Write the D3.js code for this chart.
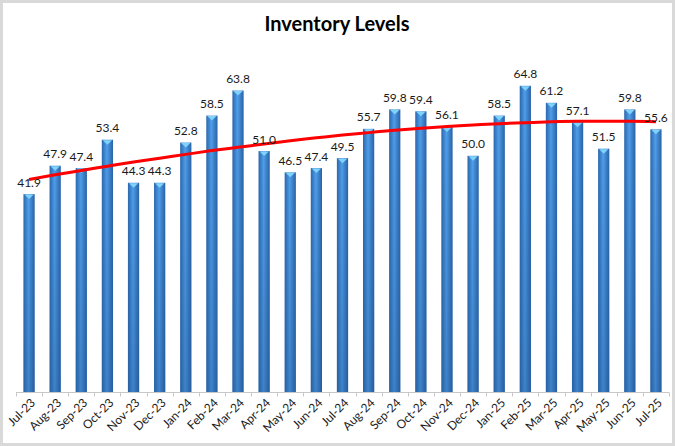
<!DOCTYPE html>
<html lang="en">
<head>
<meta charset="UTF-8">
<title>Inventory Levels</title>
<script src="https://d3js.org/d3.v7.min.js"></script>
<style>
    body { margin: 0; background: #fff; }
    svg { display: block; }
    .title { font-family: Lato, "Open Sans", sans-serif; font-weight: bold; font-size: 20px; fill: #000; }
    .val { font-family: Lato, "Open Sans", sans-serif; font-size: 12px; fill: #1a1a1a; }
    .xlab { font-family: Lato, "Open Sans", sans-serif; font-size: 12px; fill: #1a1a1a; }
</style>
</head>
<body>
<svg width="675" height="446"></svg>
<script>
    const months = ["Jul-23", "Aug-23", "Sep-23", "Oct-23", "Nov-23", "Dec-23", "Jan-24", "Feb-24", "Mar-24",
        "Apr-24", "May-24", "Jun-24", "Jul-24", "Aug-24", "Sep-24", "Oct-24", "Nov-24", "Dec-24",
        "Jan-25", "Feb-25", "Mar-25", "Apr-25", "May-25", "Jun-25", "Jul-25"];
    const inventory = [41.9, 47.9, 47.4, 53.4, 44.3, 44.3, 52.8, 58.5, 63.8, 51.0, 46.5, 47.4, 49.5,
        55.7, 59.8, 59.4, 56.1, 50.0, 58.5, 64.8, 61.2, 57.1, 51.5, 59.8, 55.6];
    // red trendline at each month
    const trend = [45.0, 46.0, 46.9, 47.8, 48.7, 49.5, 50.3, 51.1, 51.8, 52.5, 53.2, 53.8, 54.4,
        54.9, 55.4, 55.8, 56.2, 56.5, 56.8, 57.0, 57.2, 57.3, 57.3, 57.3, 57.2];
    const yMax = 70;

    const width = 675, height = 446;
    const svg = d3.select("svg");

    // frame
    svg.append("rect").attr("width", width).attr("height", height).attr("fill", "#d9d9d9");
    svg.append("rect").attr("x", 3).attr("y", 3).attr("width", 669).attr("height", 440).attr("fill", "#fff");

    svg.append("text").attr("class", "title")
        .attr("x", 337).attr("y", 31).attr("text-anchor", "middle")
        .text("Inventory Levels");

    const x = d3.scaleBand().domain(months).range([16, 669]).paddingInner(0.57).paddingOuter(0.285);
    const y = d3.scaleLinear().domain([0, yMax]).range([392.3, 61.2]);

    // gradients for the cylinder look
    const defs = svg.append("defs");
    const hg = defs.append("linearGradient").attr("id", "barH").attr("x1", 0).attr("x2", 1).attr("y1", 0).attr("y2", 0);
    hg.append("stop").attr("offset", "0%").attr("stop-color", "#2b67ad");
    hg.append("stop").attr("offset", "45%").attr("stop-color", "#4f9fea");
    hg.append("stop").attr("offset", "100%").attr("stop-color", "#2a62a6");
    const vg = defs.append("linearGradient").attr("id", "barV").attr("x1", 0).attr("x2", 0).attr("y1", 0).attr("y2", 1);
    vg.append("stop").attr("offset", "0%").attr("stop-color", "#1f4f8c").attr("stop-opacity", 0);
    vg.append("stop").attr("offset", "100%").attr("stop-color", "#1f4f8c").attr("stop-opacity", 0.35);

    const bars = svg.append("g").selectAll("g").data(months).join("g");

    bars.append("rect")
        .attr("x", d => x(d))
        .attr("y", (d, i) => y(inventory[i]))
        .attr("width", x.bandwidth())
        .attr("height", (d, i) => y(0) - y(inventory[i]))
        .attr("fill", "url(#barH)");
    bars.append("rect")
        .attr("x", d => x(d))
        .attr("y", (d, i) => y(inventory[i]))
        .attr("width", x.bandwidth())
        .attr("height", (d, i) => y(0) - y(inventory[i]))
        .attr("fill", "url(#barV)");
    // light cap at the top of each bar
    bars.append("path")
        .attr("d", (d, i) => {
            const x0 = x(d), w = x.bandwidth(), t = y(inventory[i]);
            return `M${x0 + 1},${t + 0.5} L${x0 + w - 1},${t + 0.5} L${x0 + w / 2},${t + 5} Z`;
        })
        .attr("fill", "#7fd3fb");

    // axis line + ticks
    const axisY = 392.5;
    svg.append("line").attr("x1", 16).attr("x2", 669).attr("y1", axisY).attr("y2", axisY)
        .attr("stroke", "#c8c8c8").attr("stroke-width", 1);
    svg.append("g").selectAll("line").data(d3.range(months.length + 1)).join("line")
        .attr("x1", i => Math.round(16 + i * x.step()) + 0.5)
        .attr("x2", i => Math.round(16 + i * x.step()) + 0.5)
        .attr("y1", axisY).attr("y2", axisY + 4)
        .attr("stroke", "#c8c8c8");

    svg.append("g").selectAll("text").data(months).join("text")
        .attr("class", "xlab")
        .attr("text-anchor", "end")
        .attr("transform", d => `translate(${x(d) + x.bandwidth() / 2 + 4},${axisY + 8}) rotate(-45)`)
        .attr("dy", "0.35em")
        .text(d => d);

    // trend line
    const line = d3.line()
        .x((d, i) => x(months[i]) + x.bandwidth() / 2)
        .y(d => y(d))
        .curve(d3.curveMonotoneX);
    svg.append("path").datum(trend)
        .attr("d", line)
        .attr("fill", "none")
        .attr("stroke", "#ff0000")
        .attr("stroke-width", 3);

    // value labels
    svg.append("g").selectAll("text").data(inventory).join("text")
        .attr("class", "val")
        .attr("text-anchor", "middle")
        .attr("x", (d, i) => x(months[i]) + x.bandwidth() / 2)
        .attr("y", d => y(d) - 7.5)
        .text(d => d.toFixed(1));
</script>
</body>
</html>
